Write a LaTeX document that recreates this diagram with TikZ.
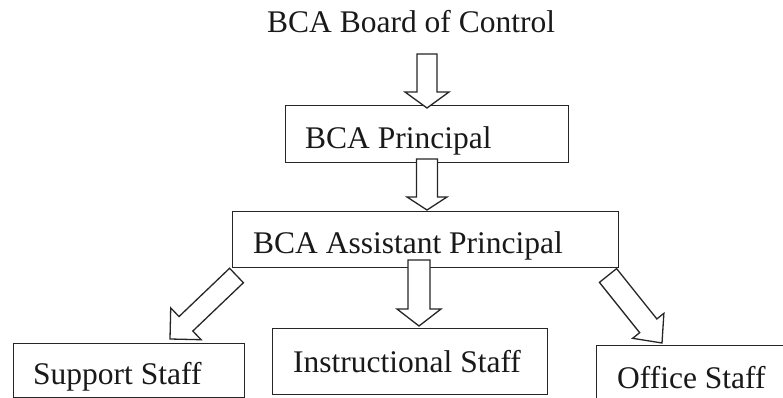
\documentclass[tikz,border=0pt]{standalone}
\usepackage{fontspec}
\setmainfont{Liberation Serif}
\usetikzlibrary{calc}
\tikzset{
  box/.style={draw=black!85, line width=1.3pt, fill=white, rectangle, inner sep=0pt},
  lbl/.style={inner sep=0pt, font=\fontsize{31.5}{36}\selectfont, text=black!90},
  arrowline/.style={draw=black!85, line width=1.3pt, fill=white, line join=miter},
}
% #1 tail, #2 tip, #3 half shaft width, #4 half head width, #5 head length
\newcommand\myblockarrow[5]{%
  \coordinate (hb) at ($(#2)!#5!(#1)$);
  \draw[arrowline] ($(#1)!#3!90:(#2)$) -- ($(hb)!#3!-90:(#1)$) -- ($(hb)!#4!-90:(#1)$)
    -- (#2) -- ($(hb)!#4!90:(#1)$) -- ($(hb)!#3!90:(#1)$) -- ($(#1)!#3!-90:(#2)$) -- cycle;}
\begin{document}
\begin{tikzpicture}[x=1pt,y=-1pt]
\useasboundingbox (0,0) rectangle (783,398);
\clip (0,0) rectangle (783,398);
% boxes
\node[box, minimum width=283pt, minimum height=57pt, anchor=north west] (pbox) at (285,105) {};
\node[box, minimum width=386pt, minimum height=56pt, anchor=north west] (abox) at (232,211) {};
\node[box, minimum width=231pt, minimum height=54pt, anchor=north west] (sbox) at (13,343) {};
\node[box, minimum width=275pt, minimum height=66pt, anchor=north west] (ibox) at (272,328) {};
\node[box, minimum width=220pt, minimum height=80pt, anchor=north west] (obox) at (596,345) {};
% texts
\node[lbl, anchor=base west] (title) at (267,33) {BCA Board of Control};
\node[lbl, anchor=base west] (ptxt) at (305,149) {BCA Principal};
\node[lbl, anchor=base west] (atxt) at (253,253) {BCA Assistant Principal};
\node[lbl, anchor=base west] (stxt) at (33,384) {Support Staff};
\node[lbl, anchor=base west] (itxt) at (293,372) {Instructional Staff};
\node[lbl, anchor=base west] (otxt) at (617,388) {Office Staff};
% arrow end points
\coordinate (a1t) at (427,54);   \coordinate (a1h) at (427,108);
\coordinate (a2t) at (427,159);  \coordinate (a2h) at (427,210);
\coordinate (a3t) at (419,260);  \coordinate (a3h) at (419,326);
\coordinate (a4t) at (236.5,275.5); \coordinate (a4h) at (170,339);
\coordinate (a5t) at (608,275.5);   \coordinate (a5h) at (662,343);
\myblockarrow{a1t}{a1h}{10pt}{22pt}{16pt}
\myblockarrow{a2t}{a2h}{10.5pt}{20pt}{13pt}
\myblockarrow{a3t}{a3h}{11pt}{22pt}{17pt}
\myblockarrow{a4t}{a4h}{10pt}{22pt}{22pt}
\myblockarrow{a5t}{a5h}{11pt}{20pt}{22pt}
\end{tikzpicture}
\end{document}
